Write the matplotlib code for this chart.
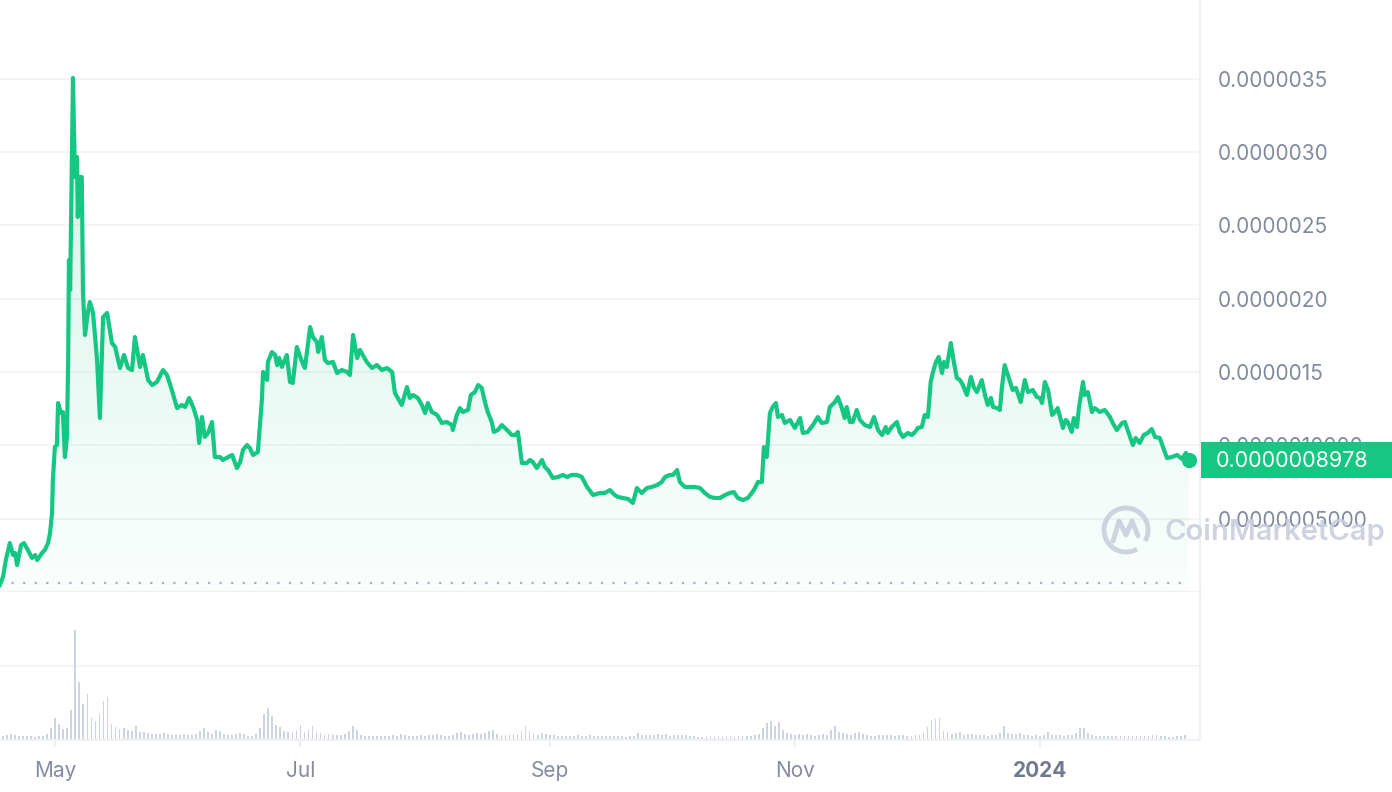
import numpy as np
import pandas as pd
import matplotlib
matplotlib.use('Agg')
import matplotlib.pyplot as plt
import matplotlib.dates as mdates
from matplotlib.patches import Rectangle, Arc

plt.rcParams['font.family'] = ['Inter', 'DejaVu Sans']

# price in units of 1e-6, at day offsets from the start date
start = pd.Timestamp('2023-04-17')
days = [
    0.2, 1.0, 1.7, 2.7, 3.5, 4.0, 4.5, 5.5, 6.2, 7.2,
    8.2, 9.0, 9.5, 10.7, 11.4, 12.2, 12.7, 13.2, 13.4, 13.9,
    14.4, 14.7, 15.4, 15.9, 16.4, 16.9, 17.2, 17.4, 17.7, 18.4,
    18.9, 19.4, 19.6, 20.1, 20.6, 20.9, 21.4, 22.1, 22.6, 23.4,
    24.4, 25.1, 25.9, 26.9, 28.1, 28.9, 30.1, 31.1, 32.1, 33.1,
    33.8, 35.1, 35.8, 37.1, 38.1, 39.3, 40.8, 41.8, 43.0, 44.3,
    45.5, 46.3, 47.3, 48.3, 49.3, 49.8, 50.5, 51.2, 52.0, 53.0,
    53.7, 55.0, 55.7, 57.0, 58.0, 59.2, 60.0, 60.7, 61.7, 62.4,
    63.2, 64.4, 65.4, 65.7, 66.7, 66.9, 67.9, 68.7, 69.2, 69.7,
    70.4, 71.6, 72.4, 73.1, 74.1, 75.4, 76.1, 77.4, 78.1, 79.1,
    79.4, 80.3, 81.1, 81.8, 83.1, 84.1, 85.3, 86.6, 87.3, 88.1,
    89.1, 89.8, 91.5, 92.8, 94.0, 95.3, 96.5, 97.8, 98.5, 100.2,
    101.5, 102.2, 103.0, 104.2, 105.2, 106.0, 106.7, 107.7, 109.0, 110.2,
    111.4, 112.7, 112.9, 113.9, 114.7, 115.4, 116.7, 117.4, 118.4, 119.2,
    120.1, 120.9, 121.6, 122.6, 123.1, 124.1, 125.1, 126.4, 127.6, 128.4,
    129.1, 130.1, 131.3, 132.1, 132.8, 133.8, 135.1, 135.8, 136.6, 137.8,
    139.1, 140.3, 141.3, 142.5, 143.8, 145.0, 146.3, 147.8, 149.5, 150.7,
    152.0, 153.2, 154.0, 155.2, 156.5, 157.7, 158.7, 159.9, 161.2, 162.4,
    163.7, 164.9, 165.7, 166.9, 167.7, 168.7, 169.4, 170.6, 171.9, 173.1,
    174.4, 175.6, 176.9, 178.1, 179.4, 180.6, 181.8, 182.8, 183.8, 185.1,
    186.3, 187.3, 188.1, 188.8, 189.8, 190.3, 191.0, 191.8, 192.5, 193.3,
    193.8, 194.8, 195.5, 196.8, 198.0, 199.3, 200.0, 201.2, 202.5, 203.7,
    204.7, 206.0, 206.7, 208.0, 208.7, 209.7, 210.4, 210.9, 211.7, 212.4,
    213.4, 214.2, 215.4, 216.7, 217.7, 218.7, 219.7, 220.6, 221.1, 222.1,
    223.4, 224.1, 224.9, 226.1, 227.1, 227.9, 228.6, 229.6, 230.3, 231.1,
    231.8, 232.3, 233.1, 233.8, 234.6, 235.1, 235.8, 236.8, 237.6, 238.3,
    239.1, 239.8, 240.8, 241.8, 242.5, 243.3, 244.5, 245.3, 246.0, 246.8,
    247.3, 248.3, 249.0, 249.5, 250.2, 251.0, 252.2, 253.0, 254.2, 255.2,
    256.0, 257.2, 258.2, 259.0, 259.5, 260.2, 261.0, 262.0, 262.7, 263.4,
    264.7, 265.4, 265.9, 266.9, 267.4, 268.2, 268.7, 269.7, 270.1, 270.9,
    271.9, 272.6, 273.9, 275.1, 276.4, 277.1, 278.1, 279.4, 280.1, 280.8,
    282.1, 282.8, 283.8, 284.8, 285.8, 286.8, 287.6, 288.8, 289.6, 290.6,
    291.8, 293.1, 294.3, 295.3, 296.0,
]
price = [
    0.048, 0.102, 0.218, 0.334, 0.252, 0.266, 0.184, 0.320, 0.334, 0.286,
    0.232, 0.252, 0.218, 0.266, 0.286, 0.334, 0.402, 0.539, 0.764, 0.988,
    1.002, 1.288, 1.220, 1.227, 0.920, 1.057, 1.561, 2.263, 2.059, 3.504,
    2.829, 2.965, 2.556, 2.829, 2.829, 2.038, 1.752, 1.902, 1.977, 1.902,
    1.581, 1.186, 1.875, 1.902, 1.697, 1.670, 1.527, 1.616, 1.527, 1.513,
    1.738, 1.534, 1.616, 1.445, 1.411, 1.432, 1.513, 1.479, 1.377, 1.254,
    1.275, 1.261, 1.323, 1.261, 1.173, 1.016, 1.193, 1.057, 1.084, 1.159,
    0.920, 0.920, 0.900, 0.920, 0.934, 0.845, 0.886, 0.968, 1.002, 0.982,
    0.934, 0.954, 1.309, 1.500, 1.445, 1.568, 1.636, 1.616, 1.547, 1.595,
    1.534, 1.616, 1.432, 1.425, 1.670, 1.568, 1.527, 1.806, 1.738, 1.704,
    1.636, 1.738, 1.581, 1.561, 1.568, 1.493, 1.513, 1.500, 1.479, 1.752,
    1.595, 1.650, 1.568, 1.527, 1.547, 1.513, 1.527, 1.500, 1.357, 1.275,
    1.397, 1.323, 1.343, 1.323, 1.275, 1.220, 1.288, 1.227, 1.207, 1.152,
    1.159, 1.138, 1.104, 1.207, 1.254, 1.227, 1.241, 1.343, 1.363, 1.411,
    1.391, 1.295, 1.227, 1.159, 1.091, 1.104, 1.138, 1.104, 1.070, 1.070,
    1.091, 0.879, 0.879, 0.900, 0.886, 0.845, 0.900, 0.852, 0.832, 0.777,
    0.784, 0.798, 0.784, 0.798, 0.798, 0.784, 0.716, 0.661, 0.675, 0.675,
    0.695, 0.661, 0.648, 0.641, 0.634, 0.607, 0.709, 0.675, 0.709, 0.716,
    0.729, 0.750, 0.784, 0.798, 0.798, 0.832, 0.750, 0.716, 0.716, 0.716,
    0.709, 0.675, 0.648, 0.641, 0.641, 0.661, 0.675, 0.682, 0.641, 0.627,
    0.641, 0.675, 0.709, 0.750, 0.750, 0.988, 0.920, 1.220, 1.261, 1.288,
    1.193, 1.207, 1.152, 1.173, 1.118, 1.186, 1.084, 1.091, 1.138, 1.193,
    1.152, 1.159, 1.261, 1.295, 1.329, 1.254, 1.186, 1.261, 1.159, 1.159,
    1.241, 1.173, 1.138, 1.125, 1.193, 1.104, 1.070, 1.125, 1.084, 1.125,
    1.159, 1.091, 1.057, 1.084, 1.070, 1.091, 1.118, 1.125, 1.207, 1.193,
    1.432, 1.493, 1.568, 1.602, 1.493, 1.568, 1.534, 1.697, 1.561, 1.459,
    1.445, 1.411, 1.343, 1.466, 1.397, 1.363, 1.445, 1.343, 1.275, 1.323,
    1.261, 1.254, 1.241, 1.391, 1.547, 1.479, 1.377, 1.391, 1.295, 1.445,
    1.363, 1.377, 1.329, 1.323, 1.288, 1.432, 1.377, 1.207, 1.227, 1.254,
    1.118, 1.173, 1.159, 1.091, 1.186, 1.125, 1.261, 1.432, 1.343, 1.363,
    1.227, 1.254, 1.227, 1.241, 1.193, 1.152, 1.104, 1.152, 1.159, 1.104,
    1.002, 1.050, 1.016, 1.070, 1.084, 1.111, 1.057, 1.050, 0.988, 0.913,
    0.920, 0.934, 0.907, 0.948, 0.8978,
]

# daily volume (relative units, no scale shown on the chart)
volume = [
    4, 4, 5, 6, 5, 4, 4, 4, 4, 3,
    4, 4, 6, 12, 22, 16, 11, 12, 30, 110,
    58, 36, 46, 22, 19, 26, 39, 43, 16, 13,
    11, 12, 10, 9, 14, 8, 8, 7, 6, 6,
    6, 7, 6, 5, 5, 5, 6, 5, 5, 6,
    9, 12, 8, 6, 10, 9, 6, 5, 5, 6,
    7, 6, 4, 4, 6, 12, 26, 32, 24, 15,
    13, 9, 8, 8, 10, 15, 8, 10, 14, 8,
    7, 5, 6, 5, 5, 5, 6, 9, 14, 10,
    5, 4, 4, 4, 4, 4, 4, 4, 5, 4,
    6, 5, 4, 4, 4, 5, 4, 5, 5, 6,
    5, 4, 4, 5, 7, 8, 6, 5, 6, 7,
    6, 7, 9, 10, 6, 5, 5, 5, 6, 6,
    9, 14, 9, 6, 5, 7, 6, 5, 5, 4,
    4, 4, 4, 4, 5, 4, 4, 5, 4, 4,
    4, 4, 4, 4, 4, 4, 3, 4, 4, 7,
    5, 5, 5, 5, 6, 5, 6, 4, 5, 5,
    5, 5, 4, 4, 3, 3, 3, 4, 3, 4,
    3, 4, 4, 3, 4, 4, 4, 4, 5, 6,
    12, 17, 19, 14, 18, 10, 7, 6, 5, 6,
    5, 6, 5, 4, 5, 6, 5, 10, 14, 8,
    7, 6, 5, 7, 8, 6, 5, 4, 4, 5,
    5, 5, 5, 4, 5, 5, 4, 4, 5, 5,
    7, 13, 20, 21, 22, 9, 8, 6, 7, 8,
    5, 6, 6, 5, 5, 5, 4, 5, 5, 7,
    14, 7, 6, 6, 7, 5, 5, 4, 5, 4,
    5, 8, 5, 5, 5, 4, 5, 5, 7, 12,
    12, 7, 5, 4, 4, 4, 4, 4, 4, 4,
    4, 4, 4, 4, 4, 4, 4, 5, 5, 4,
    4, 3, 3, 4, 4, 5,
]

ytick_vals = [0.5, 1.0, 1.5, 2.0, 2.5, 3.0, 3.5]
ytick_labels = ['0.0000005000', '0.0000010000', '0.0000015', '0.0000020',
                '0.0000025', '0.0000030', '0.0000035']
xtick_dates = ['2023-05-01', '2023-07-01', '2023-09-01', '2023-11-01', '2024-01-01']
xtick_labels = ['May', 'Jul', 'Sep', 'Nov', '2024']
open_price = 0.06
last_price_label = '0.0000008978'

green = '#16c784'
grid_c = '#f1f2f4'
text_c = '#808a9d'

W, H = 1392, 792
fig = plt.figure(figsize=(W / 100, H / 100), dpi=100)
fig.patch.set_facecolor('white')

t = mdates.date2num(start + pd.to_timedelta(days, unit='D'))
tv = mdates.date2num(start + pd.to_timedelta(np.arange(len(volume)), unit='D'))
x0 = mdates.date2num(start + pd.Timedelta(days=0.25))
x1 = mdates.date2num(start + pd.Timedelta(days=298.8))

# price pane
ax = fig.add_axes([0, 1 - 592 / H, 1200 / W, 592 / H])
ax.plot(t, price, color=green, lw=3.0, solid_joinstyle='round', zorder=3)
poly = ax.fill_between(t, price, 0, color='none')
grad = np.zeros((256, 1, 4))
grad[..., :3] = matplotlib.colors.to_rgb(green)
grad[..., 3] = np.linspace(0.2, 0.02, 256)[:, None]
im = ax.imshow(grad, aspect='auto', extent=[x0, x1, 0, 3.6], origin='upper', zorder=2)
im.set_clip_path(poly.get_paths()[0], transform=ax.transData)
ax.plot(t[-1], price[-1], 'o', ms=10, color=green, zorder=4)
ax.axhline(open_price, xmax=0.992, color='#a7b0c1', lw=1.6, ls=(0, (1, 4.2)), zorder=2)

ax.set_xlim(x0, x1)
ax.set_ylim(0, 592 / 146.7)
ax.set_yticks(ytick_vals)
ax.set_yticklabels(ytick_labels)
ax.yaxis.tick_right()
ax.tick_params(axis='y', length=0, pad=13, labelsize=15, labelcolor=text_c)
ax.set_xticks([])
ax.grid(axis='y', color=grid_c, lw=1.2)
ax.set_axisbelow(True)
for s in ['top', 'left']:
    ax.spines[s].set_visible(False)
ax.spines['bottom'].set_color('#eef0f3')
ax.spines['right'].set_color('#eef0f3')
ax.spines['bottom'].set_linewidth(1.5)
ax.spines['right'].set_linewidth(1.5)

# volume pane
ax2 = fig.add_axes([0, 1 - 740 / H, 1200 / W, 148 / H])
ax2.bar(tv, volume, width=0.45, color='#cdd3e0', zorder=2)
ax2.set_xlim(x0, x1)
ax2.set_ylim(0, 148)
ax2.set_yticks([74])
ax2.set_yticklabels([])
ax2.tick_params(axis='y', length=0)
ax2.grid(axis='y', color=grid_c, lw=1.2)
ax2.set_axisbelow(True)
ax2.set_xticks(mdates.date2num(pd.to_datetime(xtick_dates)))
ax2.set_xticklabels(xtick_labels)
ax2.tick_params(axis='x', length=5, width=1.2, color='#e8ebef', pad=10,
                labelsize=15, labelcolor='#858ca2')
ax2.get_xticklabels()[-1].set_fontweight('bold')
ax2.get_xticklabels()[-1].set_color('#6f7a90')
for s in ['top', 'left']:
    ax2.spines[s].set_visible(False)
ax2.spines['bottom'].set_color('#eef0f3')
ax2.spines['right'].set_color('#eef0f3')
ax2.spines['bottom'].set_linewidth(1.5)
ax2.spines['right'].set_linewidth(1.5)

# overlay in pixel coordinates: price tag and watermark
ov = fig.add_axes([0, 0, 1, 1])
ov.set_xlim(0, W)
ov.set_ylim(H, 0)
ov.axis('off')
ov.set_zorder(5)
ov.add_patch(Rectangle((1201, 442), 191, 36, color=green, lw=0))
ov.text(1216, 461, last_price_label, color='white', fontsize=15.5, va='center', ha='left')

wm = '#c9cfdc'
ov.add_patch(Arc((1126, 530), 44, 44, theta1=-300, theta2=30, color=wm, lw=3.5, alpha=0.9))
ov.plot([1113, 1119, 1126, 1132, 1138], [541, 521, 535, 521, 536], color=wm, lw=3.5,
        solid_joinstyle='round', solid_capstyle='round', alpha=0.9)
ov.text(1164, 532, 'CoinMarketCap', color=wm, fontsize=21, fontweight='semibold',
        va='center', ha='left', alpha=0.9)

fig.savefig('out.png', dpi=100, facecolor='white')
